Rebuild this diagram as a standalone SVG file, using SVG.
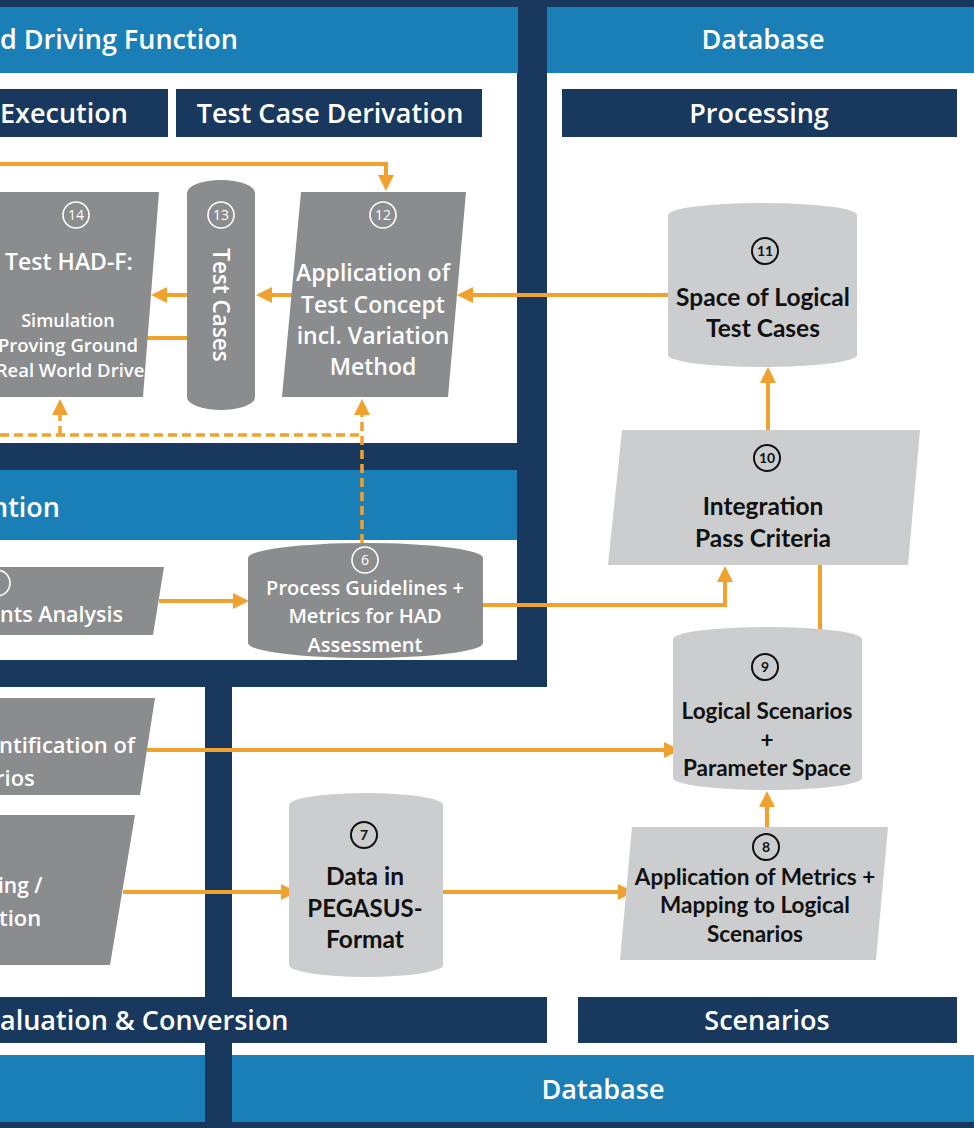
<svg xmlns="http://www.w3.org/2000/svg" width="974" height="1128" viewBox="0 0 974 1128">
  <defs>
    <style>
      .navy { fill: #18395d; }
      .band { fill: #1b7fb7; }
      .sheet { fill: #ffffff; }
      .hd { font-family: "Open Sans", "Liberation Sans", sans-serif; font-weight: 600; font-size: 27px; fill: #ffffff; }
      .dk { fill: #8b8c8e; }
      .lt { fill: #cccdcf; }
      .wt { font-family: "Open Sans", "Liberation Sans", sans-serif; font-weight: 600; fill: #ffffff; }
      .bk { font-family: Lato, "Liberation Sans", sans-serif; font-weight: 700; fill: #111111; }
      .nw circle { fill: none; stroke: #ffffff; stroke-width: 1.6; }
      .nw text { font-family: "Open Sans", "Liberation Sans", sans-serif; font-size: 14px; fill: #ffffff; text-anchor: middle; }
      .nb circle { fill: none; stroke: #111111; stroke-width: 2; }
      .nb text { font-family: Lato, "Liberation Sans", sans-serif; font-weight: 700; font-size: 14px; fill: #111111; text-anchor: middle; }
      .conn { fill: none; stroke: #f0a12e; stroke-width: 4; }
      .dash { stroke-width: 3.5; stroke-dasharray: 9 5; }
      .mid { text-anchor: middle; }
    </style>
    <marker id="ah" viewBox="0 0 16 16" refX="12" refY="8" markerWidth="16" markerHeight="16" markerUnits="userSpaceOnUse" orient="auto">
      <path d="M0,0 L16,8 L0,16 Z" fill="#f0a12e"/>
    </marker>
  </defs>

  <!-- frame and panels -->
  <g id="frame">
    <rect class="navy" x="0" y="0" width="974" height="1128"/>
    <!-- driving function panel -->
    <rect class="band" x="0" y="7" width="518" height="66"/>
    <rect class="sheet" x="0" y="73" width="517" height="370"/>
    <!-- database (processing) panel -->
    <rect class="band" x="547" y="7" width="427" height="66"/>
    <rect class="sheet" x="547" y="73" width="427" height="982"/>
    <!-- middle panel -->
    <rect class="band" x="0" y="470" width="517" height="70"/>
    <rect class="sheet" x="0" y="540" width="517" height="120"/>
    <!-- evaluation & conversion area -->
    <rect class="sheet" x="0" y="687" width="205" height="368"/>
    <rect class="sheet" x="232" y="687" width="316" height="368"/>
    <!-- bottom database band -->
    <rect class="band" x="0" y="1055" width="205" height="67"/>
    <rect class="band" x="232" y="1055" width="742" height="67"/>
    <!-- section labels -->
    <rect class="navy" x="0" y="89" width="168" height="48"/>
    <rect class="navy" x="176" y="89" width="306" height="48"/>
    <rect class="navy" x="562" y="89" width="395" height="48"/>
    <rect class="navy" x="0" y="997" width="547" height="46"/>
    <rect class="navy" x="578" y="997" width="379" height="46"/>

    <text class="hd" x="0" y="49">d Driving Function</text>
    <text class="hd mid" x="763" y="49" font-size="27.5">Database</text>
    <text class="hd" x="0" y="123" font-size="26.5">Execution</text>
    <text class="hd mid" x="330" y="123" font-size="27.5">Test Case Derivation</text>
    <text class="hd mid" x="759" y="123" font-size="27.5">Processing</text>
    <text class="hd" x="-9" y="517">ntion</text>
    <text class="hd" x="0" y="1030">aluation &amp; Conversion</text>
    <text class="hd mid" x="767" y="1030">Scenarios</text>
    <text class="hd mid" x="603" y="1099" font-size="29.5">Database</text>
  </g>

  <!-- connectors -->
  <g id="connectors">
    <path class="conn" d="M0,164 H386 V187" marker-end="url(#ah)"/>
    <path class="conn" d="M668,295 H461" marker-end="url(#ah)"/>
    <path class="conn" d="M292,295 H260" marker-end="url(#ah)"/>
    <path class="conn" d="M187,295 H155" marker-end="url(#ah)"/>
    <path class="conn" d="M187,338 H147"/>
    <path class="conn dash" d="M362,543 V403" marker-end="url(#ah)"/>
    <path class="conn dash" d="M0,435 H362"/>
    <path class="conn dash" d="M60,435 V403" marker-end="url(#ah)"/>
    <path class="conn" d="M159,601 H245" marker-end="url(#ah)"/>
    <path class="conn" d="M483,605 H725 V570" marker-end="url(#ah)"/>
    <path class="conn" d="M147,750 H676" marker-end="url(#ah)"/>
    <path class="conn" d="M123,892 H293" marker-end="url(#ah)"/>
    <path class="conn" d="M443,892 H630" marker-end="url(#ah)"/>
    <path class="conn" d="M767,827 V795" marker-end="url(#ah)"/>
    <path class="conn" d="M820,630 V565"/>
    <path class="conn" d="M768,430 V371" marker-end="url(#ah)"/>
  </g>

  <!-- 14: test of the driving function -->
  <g id="node14">
    <polygon class="dk" points="-5,192 159,192 143,397 -5,397"/>
    <g class="nw"><circle cx="76" cy="215" r="13"/><text x="76" y="220">14</text></g>
    <text class="wt mid" x="69" y="270" font-size="23">Test HAD-F:</text>
    <text class="wt mid" x="68" y="327" font-size="18">Simulation</text>
    <text class="wt mid" x="68" y="352" font-size="18.5">Proving Ground</text>
    <text class="wt mid" x="70" y="377" font-size="18.5">Real World Drive</text>
  </g>

  <!-- 13: test cases -->
  <g id="node13">
    <path class="dk" d="M187,193 A34,13 0 0 1 255,193 L255,397 A34,13 0 0 1 187,397 Z"/>
    <g class="nw"><circle cx="221" cy="215" r="13"/><text x="221" y="220">13</text></g>
    <text class="wt mid" font-size="22.5" transform="translate(221,305) rotate(90)" x="0" y="8">Test Cases</text>
  </g>

  <!-- 12: test concept -->
  <g id="node12">
    <polygon class="dk" points="301,192 466,192 448,397 282,397"/>
    <g class="nw"><circle cx="383" cy="215" r="13"/><text x="383" y="220">12</text></g>
    <text class="wt mid" x="373" y="281" font-size="23">Application of</text>
    <text class="wt mid" x="373" y="313" font-size="23">Test Concept</text>
    <text class="wt mid" x="373" y="344" font-size="23">incl. Variation</text>
    <text class="wt mid" x="373" y="375" font-size="23">Method</text>
  </g>

  <!-- 11: space of logical test cases -->
  <g id="node11">
    <path class="lt" d="M668,215 A94.5,12 0 0 1 857,215 L857,355 A94.5,12 0 0 1 668,355 Z"/>
    <g class="nb"><circle cx="765" cy="251" r="13"/><text x="765" y="256">11</text></g>
    <text class="bk mid" x="763" y="306" font-size="24.5">Space of Logical</text>
    <text class="bk mid" x="763" y="337" font-size="24.5">Test Cases</text>
  </g>

  <!-- 10: integration pass criteria -->
  <g id="node10">
    <polygon class="lt" points="622,430 920,430 908,565 608,565"/>
    <g class="nb"><circle cx="767" cy="458" r="13"/><text x="767" y="463">10</text></g>
    <text class="bk mid" x="763" y="515" font-size="24.5">Integration</text>
    <text class="bk mid" x="763" y="547" font-size="24.5">Pass Criteria</text>
  </g>

  <!-- 5: analysis -->
  <g id="node5">
    <polygon class="dk" points="-5,567 164,567 153,635 -5,635"/>
    <circle cx="-3" cy="583" r="13" fill="none" stroke="#ffffff" stroke-width="1.6"/>
    <text class="wt" x="0" y="622" font-size="21.5">nts Analysis</text>
  </g>

  <!-- 6: process guidelines -->
  <g id="node6">
    <path class="dk" d="M248,558 A117.5,15 0 0 1 483,558 L483,643 A117.5,15 0 0 1 248,643 Z"/>
    <g class="nw"><circle cx="365" cy="560" r="13"/><text x="365" y="565">6</text></g>
    <text class="wt mid" x="365" y="595" font-size="20">Process Guidelines +</text>
    <text class="wt mid" x="365" y="623" font-size="20">Metrics for HAD</text>
    <text class="wt mid" x="365" y="652" font-size="20">Assessment</text>
  </g>

  <!-- identification of scenarios -->
  <g id="node-ident">
    <polygon class="dk" points="-5,698 155,698 140,795 -5,795"/>
    <text class="wt" x="-1" y="753" font-size="22">ntification of</text>
    <text class="wt" x="-5" y="786" font-size="22">rios</text>
  </g>

  <!-- recording / conversion -->
  <g id="node-rec">
    <polygon class="dk" points="-5,815 135,815 110,965 -5,965"/>
    <text class="wt" x="-2" y="893" font-size="21">ing /</text>
    <text class="wt" x="-1" y="926" font-size="22">tion</text>
  </g>

  <!-- 7: data in PEGASUS format -->
  <g id="node7">
    <path class="lt" d="M289,805 A77,12 0 0 1 443,805 L443,965 A77,12 0 0 1 289,965 Z"/>
    <g class="nb"><circle cx="364" cy="835" r="13"/><text x="364" y="840">7</text></g>
    <text class="bk mid" x="365" y="885" font-size="24.5">Data in</text>
    <text class="bk mid" x="365" y="917" font-size="24">PEGASUS-</text>
    <text class="bk mid" x="365" y="948" font-size="24.5">Format</text>
  </g>

  <!-- 8: application of metrics -->
  <g id="node8">
    <polygon class="lt" points="632,827 888,827 876,960 620,960"/>
    <g class="nb"><circle cx="766" cy="847" r="13"/><text x="766" y="852">8</text></g>
    <text class="bk mid" x="755" y="885" font-size="22.5">Application of Metrics +</text>
    <text class="bk mid" x="755" y="913" font-size="22.5">Mapping to Logical</text>
    <text class="bk mid" x="755" y="942" font-size="22.5">Scenarios</text>
  </g>

  <!-- 9: logical scenarios -->
  <g id="node9">
    <path class="lt" d="M673,639 A94.5,12 0 0 1 862,639 L862,778 A94.5,12 0 0 1 673,778 Z"/>
    <g class="nb"><circle cx="765" cy="667" r="13"/><text x="765" y="672">9</text></g>
    <text class="bk mid" x="767" y="719" font-size="22.5">Logical Scenarios</text>
    <text class="bk mid" x="767" y="748" font-size="22.5">+</text>
    <text class="bk mid" x="767" y="776" font-size="22.5">Parameter Space</text>
  </g>
</svg>
